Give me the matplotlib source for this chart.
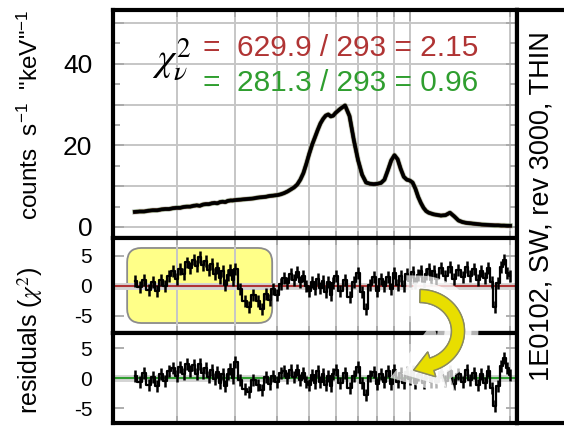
import matplotlib
matplotlib.use('Agg')
import numpy as np
import matplotlib.pyplot as plt
from matplotlib.patches import FancyBboxPatch, Polygon
from matplotlib.transforms import Affine2D
import matplotlib.patheffects as pe
from matplotlib.ticker import FixedLocator, NullFormatter, FixedFormatter

plt.rcParams['font.family'] = ['Liberation Sans', 'DejaVu Sans']
plt.rcParams['axes.unicode_minus'] = False
plt.rcParams['mathtext.fontset'] = 'custom'
plt.rcParams['mathtext.rm'] = 'Liberation Sans'
plt.rcParams['mathtext.it'] = 'Liberation Sans:italic'
plt.rcParams['mathtext.bf'] = 'Liberation Sans:bold'

# ---------------- data ----------------
energy = [0.150, 0.155, 0.160, 0.165, 0.170, 0.175, 0.180, 0.185, 0.190, 0.195,
          0.200, 0.205, 0.210, 0.215, 0.220, 0.225, 0.230, 0.235, 0.240, 0.245,
          0.250, 0.255, 0.260, 0.265, 0.270, 0.275, 0.280, 0.285, 0.290, 0.295,
          0.30, 0.31, 0.32, 0.33, 0.34, 0.35, 0.36, 0.37, 0.38, 0.39,
          0.40, 0.41, 0.42, 0.43, 0.44, 0.45, 0.46, 0.47, 0.48, 0.49,
          0.50, 0.51, 0.52, 0.53, 0.54, 0.55, 0.56, 0.57, 0.58, 0.59,
          0.60, 0.62, 0.64, 0.66, 0.68, 0.70, 0.72, 0.74, 0.76, 0.78,
          0.80, 0.82, 0.84, 0.86, 0.88, 0.90, 0.92, 0.94, 0.96, 0.98,
          1.00, 1.02, 1.04, 1.06, 1.08, 1.10, 1.12, 1.14, 1.16, 1.18,
          1.20, 1.24, 1.28, 1.32, 1.36, 1.40, 1.44, 1.48, 1.52, 1.56,
          1.60, 1.64, 1.68, 1.72, 1.76, 1.80, 1.84, 1.88, 1.92, 1.96, 2.00]

counts = [3.7, 3.8, 3.8, 4.0, 4.1, 4.1, 4.3, 4.4, 4.4, 4.6,
          4.7, 4.7, 4.9, 5.0, 5.0, 5.2, 5.3, 5.2, 5.5, 5.6,
          5.6, 5.8, 5.9, 5.8, 6.1, 6.2, 6.1, 6.4, 6.5, 6.5,
          6.6, 6.7, 6.8, 6.9, 7.0, 7.2, 7.3, 7.4, 7.6, 7.7,
          7.8, 8.0, 8.3, 8.7, 9.2, 9.7, 10.4, 11.6, 13.2, 15.5,
          18.0, 20.2, 22.0, 23.8, 25.4, 26.5, 27.3, 27.6, 27.1, 27.3,
          28.0, 29.0, 29.8, 27.2, 21.3, 16.4, 12.8, 10.9, 10.6, 10.5,
          10.6, 10.8, 11.6, 13.9, 16.3, 17.6, 16.6, 14.2, 12.3, 11.6,
          11.4, 10.9, 9.4, 7.4, 5.9, 4.7, 3.9, 3.5, 3.3, 3.1,
          3.0, 2.8, 2.9, 3.5, 2.6, 1.6, 1.2, 1.0, 0.9, 0.8,
          0.7, 0.6, 0.55, 0.5, 0.45, 0.4, 0.4, 0.35, 0.35, 0.3, 0.3]

model_red = list(counts)
model_green = list(counts)

resid_red = [0.8, -0.2, 1.0, -0.7, 0.6, -0.9, 0.9, 0.0, 1.6, 2.4,
             1.2, 2.8, 2.0, 3.9, 3.0, 4.4, 3.3, 4.8, 3.4, 4.2,
             2.6, 3.6, 2.0, 2.9, 1.3, 2.4, 0.2, 1.8, 2.6, 1.0,
             2.8, -0.5, -2.6, -3.6, -1.6, -2.6, -3.9, -1.4, -2.4, -0.6,
             -1.6, 0.3, 1.3, 0.4, 1.9, 0.9, 2.3, 0.6, 1.6, 0.0,
             -0.8, 0.7, -0.6, 1.2, -0.4, 0.8, -1.0, 0.6, -1.5, 0.4,
             1.7, -0.8, 1.0, -1.9, 0.6, 2.1, -1.0, -3.9, 0.2, 1.4,
             -0.8, 1.1, -0.1, 1.5, -0.5, 2.2, 0.2, 1.7, 0.0, 1.9,
             0.8, 2.3, 0.5, 1.8, 2.5, 0.6, 2.0, 2.8, 1.0, 2.4,
             1.2, 2.9, 1.6, 3.1, 1.1, 2.7, 1.5, 3.2, 1.7, 2.8,
             0.9, 2.5, 1.3, 3.0, 0.6, -3.6, 0.4, 3.2, 4.4, 2.2, 1.6]

resid_green = [0.3, -0.6, 0.9, -1.1, 0.2, -1.4, 0.6, -0.5, 1.1, 1.7,
               0.4, 1.9, 0.7, 2.3, 1.1, 2.1, 0.7, 2.4, 0.8, 1.7,
               0.2, 1.3, -0.1, 1.0, -0.8, 0.6, -1.3, 0.7, 1.5, 0.0,
               2.6, -0.4, -1.9, -2.3, -0.4, -1.2, -2.0, 0.2, -1.0, 0.4,
               -0.6, 0.8, 1.1, 0.0, 1.3, 0.2, 1.4, -0.3, 0.9, -0.7,
               -1.2, 0.5, -0.9, 1.1, -0.6, 0.7, -1.1, 0.4, -1.4, 0.6,
               1.4, -0.8, 0.8, -1.6, 0.4, 1.8, -0.9, -2.9, 0.4, 1.0,
               -1.0, 0.6, -0.7, 1.1, -1.0, 1.3, -0.6, 0.8, -0.9, 1.0,
               -0.1, 1.1, -0.8, 0.5, 1.2, -0.9, 0.6, 1.3, -0.6, 0.8,
               -0.6, 1.0, -0.5, 1.2, -1.0, 0.7, -0.7, 1.3, -0.4, 0.8,
               -1.1, 0.6, -0.8, 1.1, -1.6, -4.6, -1.3, 2.0, 3.3, 1.6, 0.5]

resid_err = [1.0] * len(energy)

grid_energies = [0.2, 0.3, 0.4, 0.5, 0.6, 0.7, 0.8, 0.9, 2.0]
count_ticks = [0, 10, 20, 30, 40, 50]
count_ticklabels = ['0', '', '20', '', '40', '']
count_minor = [5, 15, 25, 35, 45]
resid_ticks = [-5, 0, 5]
resid_ticklabels = ['-5', '0', '5']

stat_red = '=  629.9 / 293 = 2.15'
stat_green = '=  281.3 / 293 = 0.96'
side_text = '1E0102, SW, rev 3000, THIN'

# ---------------- layout ----------------
W, H = 564, 426
fig = plt.figure(figsize=(W / 100, H / 100), dpi=100)


def px_axes(x0, y0, x1, y1):
    return fig.add_axes([x0 / W, 1 - y1 / H, (x1 - x0) / W, (y1 - y0) / H])


ax_top = px_axes(113, 10, 517, 238)
ax_r1 = px_axes(113, 238, 517, 333)
ax_r2 = px_axes(113, 333, 517, 423)
ax_txt = px_axes(517, 10, 572, 423)

GRID = '#c6c6c6'
TICK = '#a8a8a8'
RED = '#b03434'
GREEN = '#2f9e2f'

for ax in (ax_top, ax_r1, ax_r2):
    ax.set_xscale('log')
    ax.set_xlim(0.129, 2.097)
    ax.xaxis.set_major_locator(FixedLocator([1.0]))
    ax.xaxis.set_minor_locator(FixedLocator(grid_energies))
    ax.xaxis.set_major_formatter(NullFormatter())
    ax.xaxis.set_minor_formatter(NullFormatter())
    ax.grid(True, which='both', axis='x', color=GRID, lw=1.4)
    ax.tick_params(which='both', direction='in', top=True, right=True,
                   color=TICK, width=1.3, labelbottom=False)
    ax.tick_params(which='major', length=8)
    ax.tick_params(which='minor', length=5)
    for s in ax.spines.values():
        s.set_linewidth(3)
        s.set_color('black')

# top spectrum panel
ax_top.set_ylim(-2.7, 53.2)
ax_top.yaxis.set_major_locator(FixedLocator(count_ticks))
ax_top.yaxis.set_major_formatter(FixedFormatter(count_ticklabels))
ax_top.yaxis.set_minor_locator(FixedLocator(count_minor))
ax_top.grid(True, which='major', axis='y', color=GRID, lw=1.4)
ax_top.tick_params(axis='y', labelsize=19, pad=15)
ax_top.plot(energy, model_green, color=GREEN, lw=3.0, zorder=3)
ax_top.plot(energy, model_red, color=RED, lw=2.7, zorder=3.1)
ax_top.plot(energy, counts, color='black', lw=2.3, zorder=3.2,
            path_effects=[pe.withStroke(linewidth=4.0, foreground=(0.5, 0.5, 0.5, 0.35)), pe.Normal()])

fig.text(172 / W, 1 - 60 / H, r'$\chi^2_\nu$', fontsize=28, ha='center', va='center',
         math_fontfamily='stix', color='black')
fig.text(203 / W, 1 - 48 / H, stat_red, fontsize=21.5, color=RED, ha='left', va='center')
fig.text(203 / W, 1 - 83 / H, stat_green, fontsize=21.5, color=GREEN, ha='left', va='center')

# residual panels
for ax, res, col, lim in ((ax_r1, resid_red, RED, (-7.9, 8.0)),
                          (ax_r2, resid_green, GREEN, (-7.5, 7.5))):
    ax.set_ylim(*lim)
    ax.yaxis.set_major_locator(FixedLocator(resid_ticks))
    ax.yaxis.set_major_formatter(FixedFormatter(resid_ticklabels))
    ax.tick_params(axis='y', labelsize=15, pad=15)
    ax.axhline(0, color='#d4d4d4', lw=5, zorder=2)
    ax.axhline(0, color=col, lw=1.5, zorder=2.1)
    ax.errorbar(energy, res, yerr=resid_err, fmt='none', ecolor='black',
                elinewidth=1.8, capsize=0, zorder=3)
    ax.plot(energy, res, color='black', lw=1.6, drawstyle='steps-mid', zorder=3)

# yellow highlight box
box = FancyBboxPatch((0.035, 0.105), 0.359, 0.79, transform=ax_r1.transAxes,
                     boxstyle='round,pad=0,rounding_size=0.035', mutation_aspect=404 / 95,
                     facecolor='#ffff88', edgecolor='#8c8c8c', lw=1.3, zorder=1)
ax_r1.add_patch(box)

# side text panel
ax_txt.set_xticks([])
ax_txt.set_yticks([])
for s in ax_txt.spines.values():
    s.set_linewidth(3)
    s.set_color('black')
fig.text(541 / W, 1 - 206 / H, side_text, rotation=90, fontsize=19.5,
         ha='center', va='center')

# axis titles
fig.text(30 / W, 1 - 115 / H, 'counts  s$^{-1}$  "keV"$^{-1}$', rotation=90,
         fontsize=17.5, ha='center', va='center')
fig.text(30 / W, 1 - 340 / H, r'residuals ($\chi^2$)', rotation=90,
         fontsize=18, ha='center', va='center', math_fontfamily='stix')

# curved yellow arrow (built in pixel space, y measured downward from the top)
cx, cy, rx, ry, half_w = 420.0, 331.0, 38.0, 35.0, 6.5
theta = np.radians(np.linspace(90, -72, 60))
mid = np.column_stack([cx + rx * np.cos(theta), cy - ry * np.sin(theta)])
tang = np.gradient(mid, axis=0)
tang /= np.linalg.norm(tang, axis=1)[:, None]
norm = np.column_stack([-tang[:, 1], tang[:, 0]])
outer = mid - norm * half_w
inner = mid + norm * half_w
end, t_end, n_end = mid[-1], tang[-1], norm[-1]
head = [end - n_end * 13.0, end + t_end * 19.0, end + n_end * 13.0]
outline = np.vstack([outer, [end - n_end * half_w], head, [end + n_end * half_w], inner[::-1]])
pix_to_fig = Affine2D().scale(1, -1).translate(0, H).scale(1 / W, 1 / H) + fig.transFigure
arrow = Polygon(outline, closed=True, transform=pix_to_fig, facecolor='#e8de00',
                edgecolor='#8a8a60', lw=1.0, zorder=10)
arrow.set_path_effects([pe.withStroke(linewidth=20, foreground=(1, 1, 1, 0.7)),
                        pe.withStroke(linewidth=10, foreground=(1, 1, 1, 0.8)), pe.Normal()])
fig.add_artist(arrow)

fig.savefig('out.png', dpi=100)
